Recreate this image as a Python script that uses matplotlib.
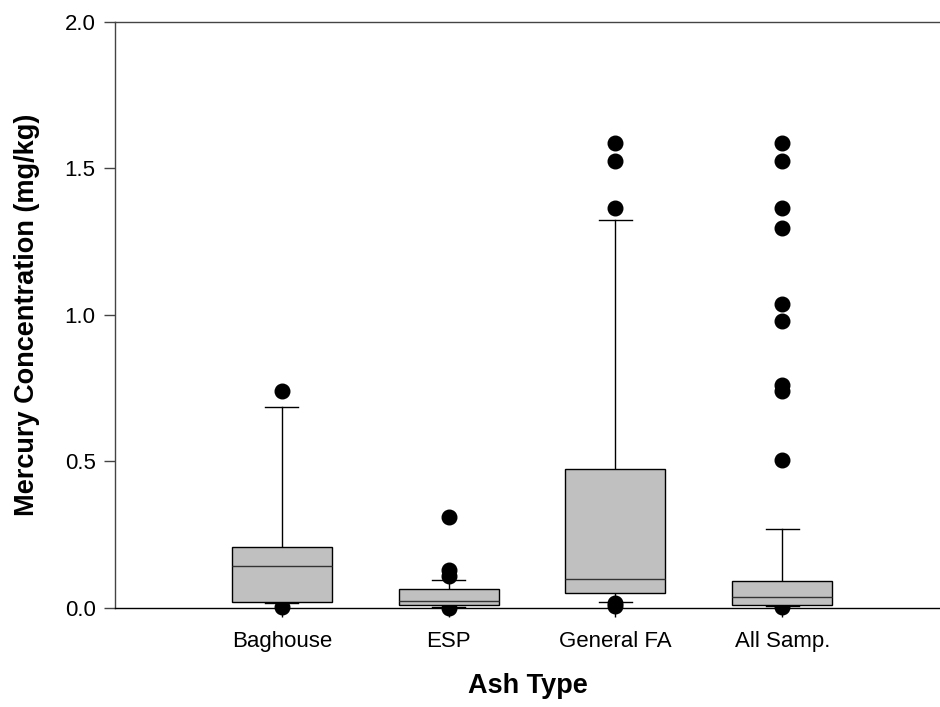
import matplotlib
matplotlib.use("Agg")
import matplotlib.pyplot as plt

plt.rcParams["font.family"] = ["Liberation Sans", "DejaVu Sans"]

# values (mg/kg)
categories = ["Baghouse", "ESP", "General FA", "All Samp."]
q1 = [0.020, 0.009, 0.050, 0.010]
median = [0.143, 0.024, 0.099, 0.039]
q3 = [0.209, 0.064, 0.475, 0.093]
whisk_lo = [0.016, 0.005, 0.021, 0.007]
whisk_hi = [0.687, 0.096, 1.322, 0.271]
outliers = [
    [0.741, 0.004],
    [0.312, 0.130, 0.110, 0.001],
    [1.584, 1.523, 1.364, 0.018, 0.008],
    [1.584, 1.523, 1.363, 1.296, 1.038, 0.977, 0.762, 0.741, 0.503, 0.002],
]

stats = []
for i, name in enumerate(categories):
    stats.append(dict(label=name, q1=q1[i], med=median[i], q3=q3[i],
                      whislo=whisk_lo[i], whishi=whisk_hi[i],
                      fliers=outliers[i]))

fig = plt.figure(figsize=(9.4, 7.07), dpi=100)
ax = fig.add_axes([115 / 940, 1 - 608 / 707, 825 / 940, (608 - 21.5) / 707])

ax.bxp(stats, positions=[1, 2, 3, 4], widths=0.6, patch_artist=True,
       boxprops=dict(facecolor="#c0c0c0", edgecolor="black", linewidth=1.0, zorder=3),
       medianprops=dict(color="#333333", linewidth=1.0, zorder=4),
       whiskerprops=dict(color="black", linewidth=1.0),
       capprops=dict(color="black", linewidth=1.0),
       capwidths=0.2,
       flierprops=dict(marker="o", markerfacecolor="black", markeredgecolor="black",
                       markersize=10.5, linestyle="none", zorder=2, clip_on=False))

ax.set_xlim(0, 4.946)
ax.set_ylim(0, 2.0)
ax.set_yticks([0.0, 0.5, 1.0, 1.5, 2.0])
ax.set_yticklabels(["0.0", "0.5", "1.0", "1.5", "2.0"])
ax.set_xticks([1, 2, 3, 4])
ax.set_xticklabels(categories)

ax.spines["right"].set_visible(False)
ax.spines["top"].set_color("#444444")
ax.spines["left"].set_color("#444444")
for s in ax.spines.values():
    s.set_linewidth(1.0)

ax.tick_params(axis="y", direction="out", length=8, width=1, labelsize=16,
               pad=6, color="#444444")
ax.tick_params(axis="x", direction="out", length=6.5, width=1, labelsize=16,
               pad=10)

ax.set_xlabel("Ash Type", fontsize=19.5, fontweight="bold", labelpad=15)
ax.set_ylabel("Mercury Concentration (mg/kg)", fontsize=19.5, fontweight="bold",
              labelpad=18)

fig.savefig("out.png", dpi=100)
